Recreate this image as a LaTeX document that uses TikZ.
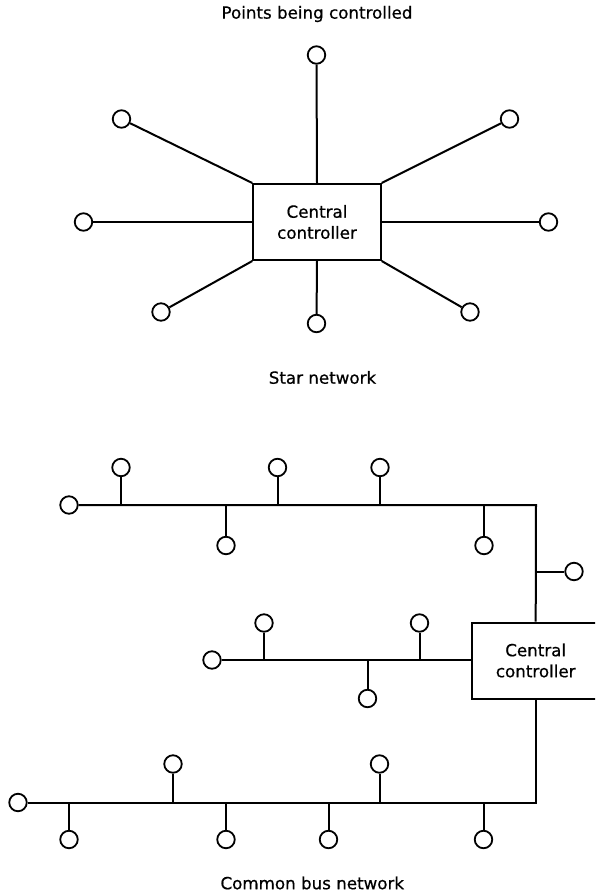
\documentclass[tikz,border=0pt]{standalone}
\usepackage{fontspec}
\setmainfont{DejaVu Sans}
\newfontfamily\labelfont[FakeBold=0.6]{DejaVu Sans}
\begin{document}
\begin{tikzpicture}[x=1pt,y=-1pt,
  line width=2pt,
  pt/.style={circle,draw,line width=1.8pt,minimum size=17.5pt,inner sep=0pt},
  ctrl/.style={draw,line width=2pt,minimum width=127.4pt,minimum height=76pt,inner sep=0pt,
    align=center,font=\labelfont\fontsize{16.7}{21}\selectfont},
  lbl/.style={inner sep=0pt,font=\labelfont\fontsize{16.7}{20}\selectfont}]
\useasboundingbox (0,0) rectangle (595,895);
\clip (0,0) rectangle (595,895);
% ---------- Star network ----------
\node[lbl] (title) at (317,14) {Points being controlled};
\node[ctrl] (sbox) at (317,222) {Central\\controller};
\node[pt] (st) at (316.5,55) {};
\node[pt] (sul) at (121.5,119) {};
\node[pt] (sur) at (509.5,119) {};
\node[pt] (sl) at (83.5,222) {};
\node[pt] (sr) at (548.5,222) {};
\node[pt] (sbl) at (161,312) {};
\node[pt] (sb) at (316.5,323.5) {};
\node[pt] (sbr) at (470,312) {};
\draw (st) -- (sbox.north);
\draw (sul) -- (sbox.north west);
\draw (sur) -- (sbox.north east);
\draw (sl) -- (sbox.west);
\draw (sr) -- (sbox.east);
\draw (sbl) -- (sbox.south west);
\draw (sb) -- (sbox.south);
\draw (sbr) -- (sbox.south east);
\node[lbl] (starlbl) at (322.5,377.5) {Star network};
% ---------- Common bus network ----------
\node[ctrl] (bbox) at (535.7,660.5) {Central\\controller};
% top bus
\node[pt] (a0) at (69,505) {};
\coordinate (acorner) at (536,505);
\draw (a0) -- (acorner) -- (bbox.north);
\coordinate (a1) at (121,505);   \node[pt] (ac1) at (121,467.5) {};   \draw (a1) -- (ac1);
\coordinate (a2) at (226,505);   \node[pt] (ac2) at (226,545.5) {};   \draw (a2) -- (ac2);
\coordinate (a3) at (277.5,505); \node[pt] (ac3) at (277.5,467.5) {}; \draw (a3) -- (ac3);
\coordinate (a4) at (380,505);   \node[pt] (ac4) at (380,467.5) {};   \draw (a4) -- (ac4);
\coordinate (a5) at (484,505);   \node[pt] (ac5) at (484,545.5) {};   \draw (a5) -- (ac5);
\coordinate (a6) at (536,571.5); \node[pt] (ac6) at (574,571.5) {};   \draw (a6) -- (ac6);
% middle bus
\node[pt] (b0) at (212,660) {};
\draw (b0) -- (bbox.west |- b0);
\coordinate (b1) at (264,660);   \node[pt] (bc1) at (264,623) {};     \draw (b1) -- (bc1);
\coordinate (b2) at (367.5,660); \node[pt] (bc2) at (367.5,698.5) {}; \draw (b2) -- (bc2);
\coordinate (b3) at (419.5,660); \node[pt] (bc3) at (419.5,623) {};   \draw (b3) -- (bc3);
% bottom bus
\node[pt] (c0) at (18,802.5) {};
\coordinate (ccorner) at (535.7,802.5);
\draw (c0) -- (ccorner) -- (bbox.south);
\coordinate (c1) at (69,802.5);    \node[pt] (cc1) at (69,839.5) {};    \draw (c1) -- (cc1);
\coordinate (c2) at (173,802.5);   \node[pt] (cc2) at (173,764) {};     \draw (c2) -- (cc2);
\coordinate (c3) at (226,802.5);   \node[pt] (cc3) at (226,839.5) {};   \draw (c3) -- (cc3);
\coordinate (c4) at (328.5,802.5); \node[pt] (cc4) at (328.5,839.5) {}; \draw (c4) -- (cc4);
\coordinate (c5) at (379.5,802.5); \node[pt] (cc5) at (379.5,764) {};   \draw (c5) -- (cc5);
\coordinate (c6) at (483.5,802.5); \node[pt] (cc6) at (483.5,839.5) {}; \draw (c6) -- (cc6);
\node[lbl] (buslbl) at (312.3,883) {Common bus network};
\end{tikzpicture}
\end{document}
